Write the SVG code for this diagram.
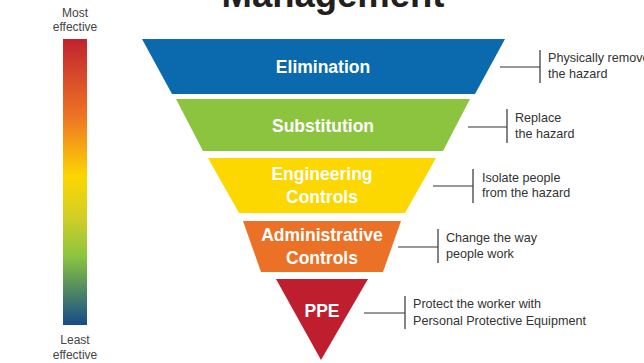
<svg xmlns="http://www.w3.org/2000/svg" width="644" height="363" viewBox="0 0 644 363">
  <defs>
    <linearGradient id="effectiveness" x1="0" y1="0" x2="0" y2="1">
      <stop offset="0" stop-color="#c1222f"/>
      <stop offset="0.27" stop-color="#ee7424"/>
      <stop offset="0.48" stop-color="#fdd600"/>
      <stop offset="0.62" stop-color="#d3cf25"/>
      <stop offset="0.76" stop-color="#8cc440"/>
      <stop offset="1" stop-color="#164b89"/>
    </linearGradient>
    <style>
      .tier-label { font-family: "Liberation Sans", Arial, sans-serif; font-weight: bold; font-size: 17.5px; fill: #ffffff; text-anchor: middle; }
      .note { font-family: "Liberation Sans", Arial, sans-serif; font-size: 12.6px; fill: #333333; }
      .scale { font-family: "Liberation Sans", Arial, sans-serif; font-size: 12px; fill: #444444; text-anchor: middle; }
      .title { font-family: "Liberation Sans", Arial, sans-serif; font-weight: bold; font-size: 36px; fill: #231f20; text-anchor: middle; }
      .connector { stroke: #333333; stroke-width: 1.2; fill: none; }
    </style>
  </defs>

  <rect width="644" height="363" fill="#ffffff"/>

  <!-- heading, partly above the top edge -->
  <text class="title" x="333" y="7" textLength="223" lengthAdjust="spacingAndGlyphs">Management</text>

  <!-- effectiveness scale -->
  <g id="scale">
    <text class="scale" x="75" y="17">Most</text>
    <text class="scale" x="75" y="31">effective</text>
    <rect x="63" y="39" width="24" height="286" fill="url(#effectiveness)"/>
    <text class="scale" x="75" y="344">Least</text>
    <text class="scale" x="75" y="359">effective</text>
  </g>

  <!-- hierarchy tiers -->
  <g id="elimination">
    <polygon points="142,39 505,39 475,94 172,94" fill="#0b6aad"/>
    <text class="tier-label" x="323" y="73">Elimination</text>
  </g>
  <g id="substitution">
    <polygon points="176,99 470,99 443,151 203,151" fill="#8cc43f"/>
    <text class="tier-label" x="323" y="132">Substitution</text>
  </g>
  <g id="engineering">
    <polygon points="208,158 436,158 405,213 239,213" fill="#fdd700"/>
    <text class="tier-label" x="322" y="180">Engineering</text>
    <text class="tier-label" x="322" y="203">Controls</text>
  </g>
  <g id="administrative">
    <polygon points="243,221 401,221 383,272 261,272" fill="#eb7126"/>
    <text class="tier-label" x="322" y="241">Administrative</text>
    <text class="tier-label" x="322" y="264">Controls</text>
  </g>
  <g id="ppe">
    <polygon points="276,279 368,279 321,360" fill="#be1e2e"/>
    <text class="tier-label" x="322" y="317">PPE</text>
  </g>

  <!-- bracket connectors -->
  <g id="connectors">
    <path class="connector" d="M500,67 H540 M540,50 V83"/>
    <path class="connector" d="M468,127 H507 M507,109 V143"/>
    <path class="connector" d="M433,186 H473 M473,169 V203"/>
    <path class="connector" d="M398,247 H438 M438,229 V263"/>
    <path class="connector" d="M364,313 H405 M405,296 V329"/>
  </g>

  <!-- descriptions -->
  <g id="notes">
    <text class="note" x="548" y="62">Physically remove</text>
    <text class="note" x="548" y="78">the hazard</text>
    <text class="note" x="515" y="122">Replace</text>
    <text class="note" x="515" y="138">the hazard</text>
    <text class="note" x="482" y="182">Isolate people</text>
    <text class="note" x="482" y="197">from the hazard</text>
    <text class="note" x="446" y="242">Change the way</text>
    <text class="note" x="446" y="258">people work</text>
    <text class="note" x="413" y="308">Protect the worker with</text>
    <text class="note" x="413" y="325">Personal Protective Equipment</text>
  </g>
</svg>
